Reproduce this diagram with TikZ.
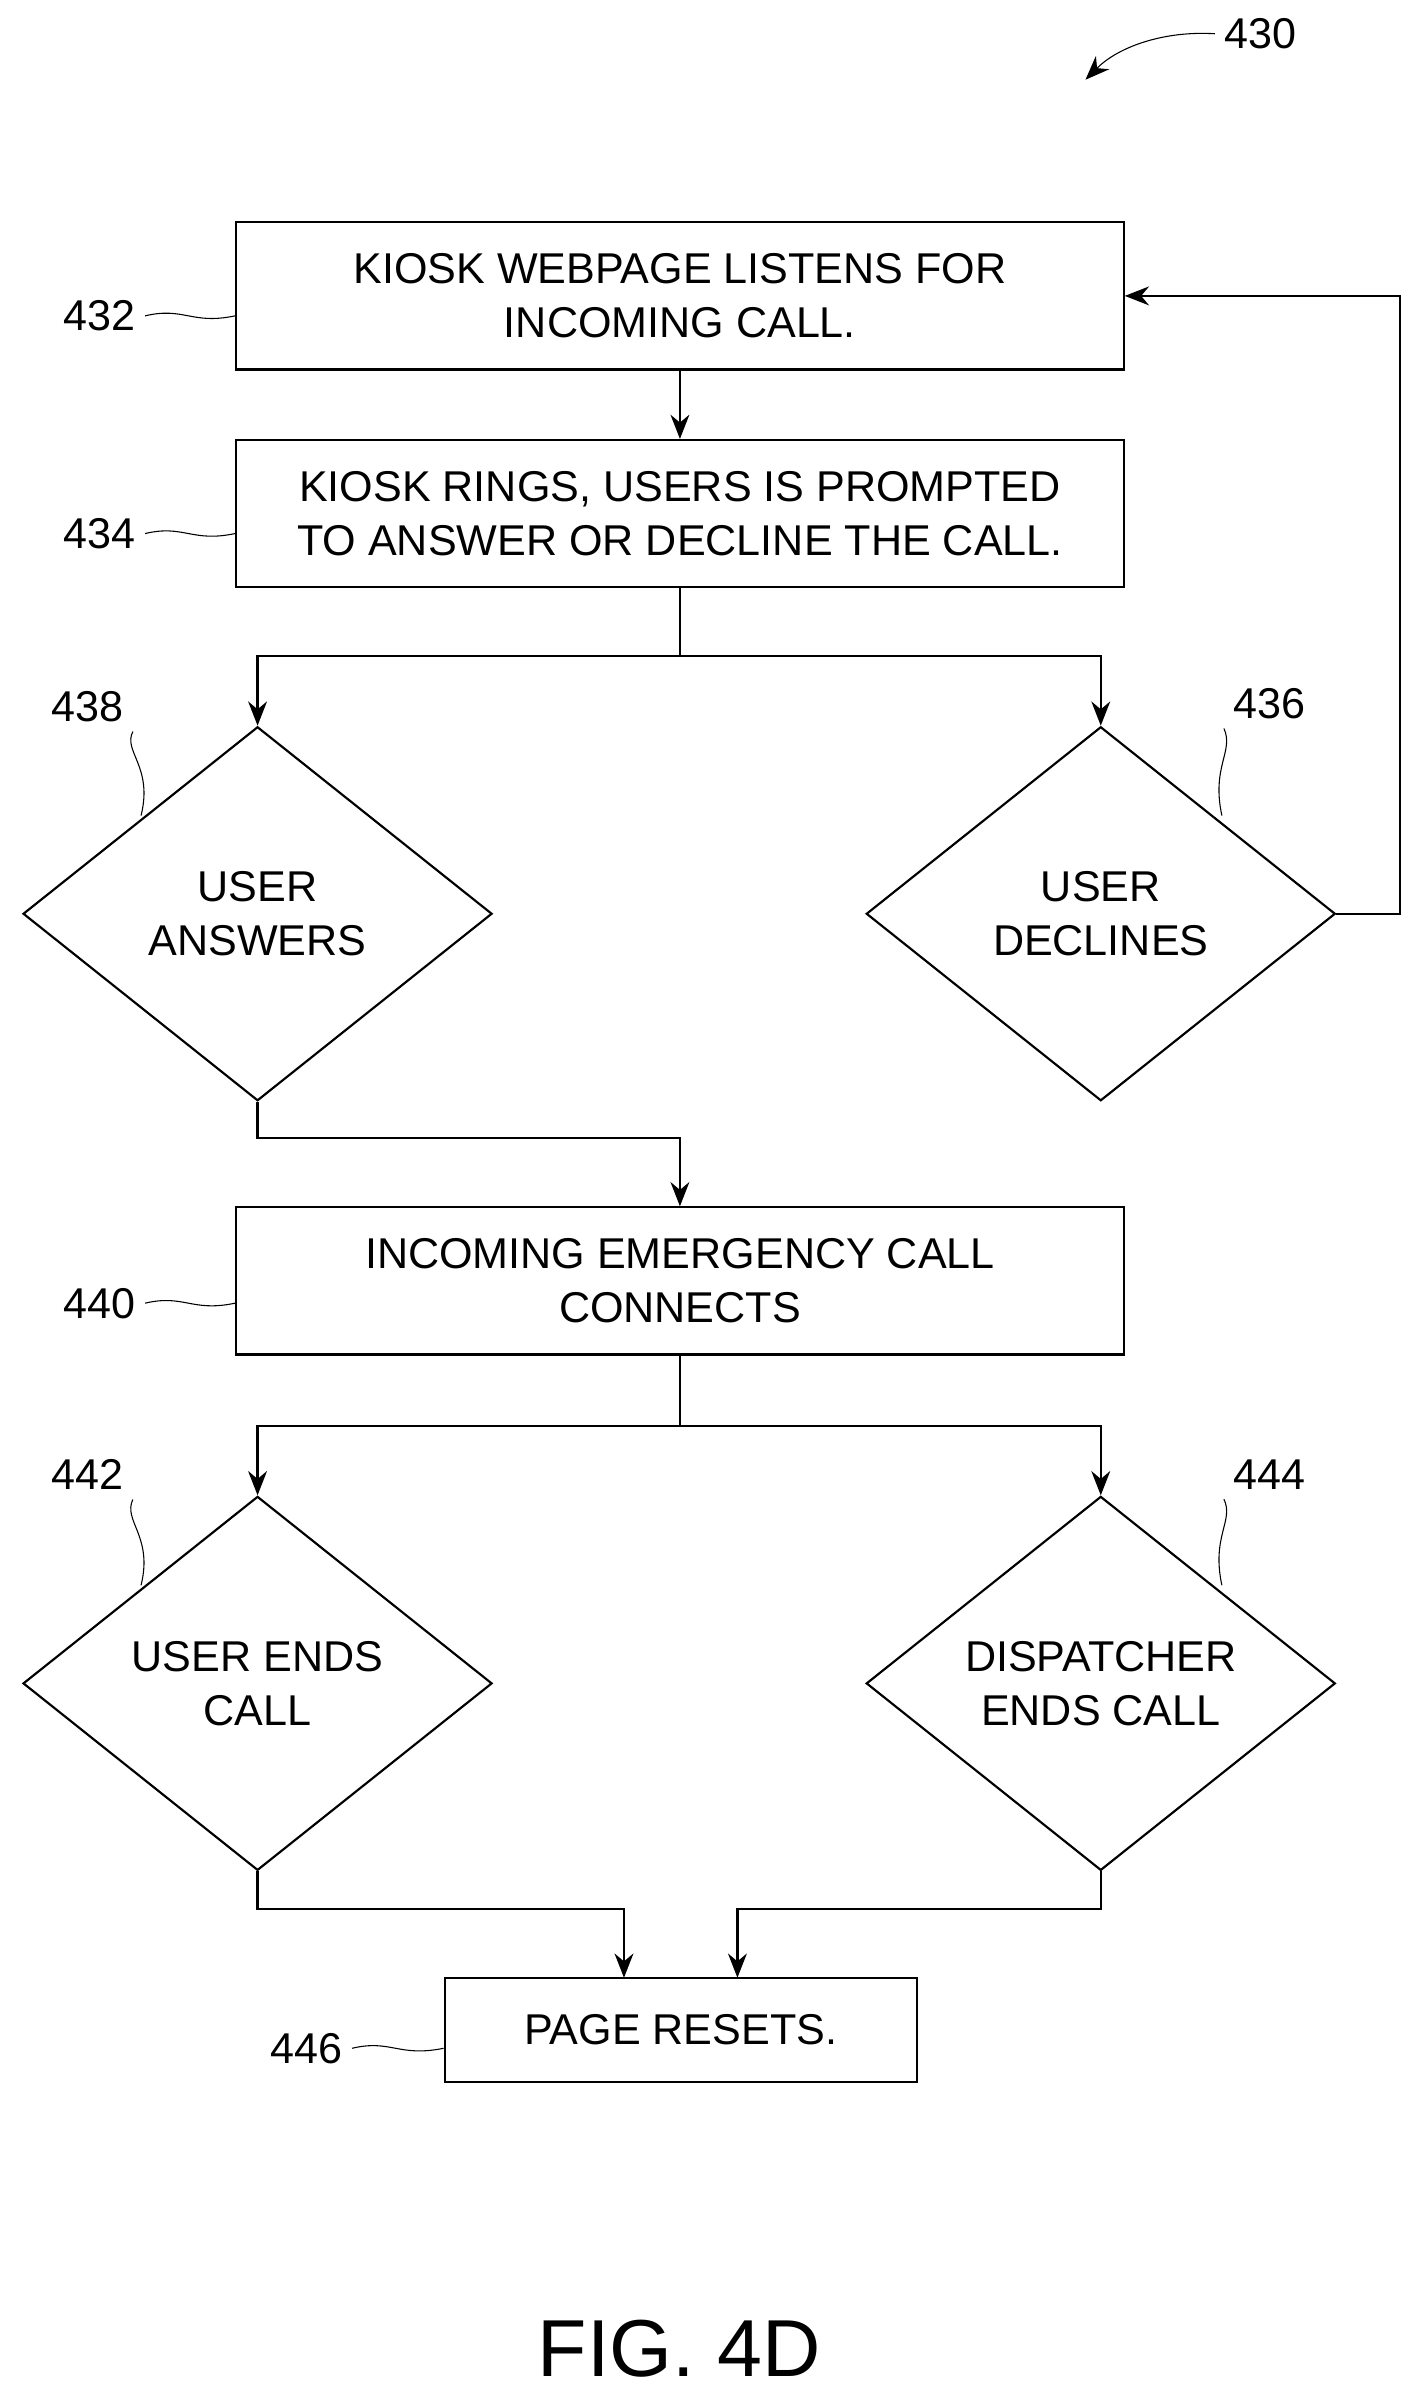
\documentclass[tikz,border=0pt]{standalone}
\usepackage{fontspec}
\setmainfont{Liberation Sans}
\usetikzlibrary{shapes.geometric,arrows.meta}
\tikzset{
    procbox/.style={draw, thick, minimum width=11.58cm, minimum height=1.92cm, align=center, inner sep=0pt},
    test/.style={draw, thick, diamond, aspect=1.254, minimum width=6.12cm, minimum height=4.88cm, align=center, inner sep=0pt},
    flow/.style={thick, -{Stealth[length=9pt,width=7pt]}},
    lead/.style={thin},
    ref/.style={font=\fontsize{16}{19}\selectfont}
}
\begin{document}
\begin{tikzpicture}[x=0.02cm, y=-0.02cm, font=\fontsize{16}{20}\selectfont]
    \useasboundingbox (0,0) rectangle (930,1570);

    \node[procbox] (s432) at (443.5,193) {KIOSK WEBPAGE LISTENS FOR\\INCOMING CALL.};
    \node[procbox] (s434) at (443.5,335) {KIOSK RINGS, USERS IS PROMPTED\\TO ANSWER OR DECLINE THE CALL.};
    \node[test] (d438) at (168,596) {USER\\ANSWERS};
    \node[test] (d436) at (718,596) {USER\\DECLINES};
    \node[procbox] (s440) at (443.5,835.5) {INCOMING EMERGENCY CALL\\CONNECTS};
    \node[test] (d442) at (168,1098) {USER ENDS\\CALL};
    \node[test] (d444) at (718,1098) {DISPATCHER\\ENDS CALL};
    \node[procbox, minimum width=6.16cm, minimum height=1.36cm] (s446) at (444,1324) {PAGE RESETS.};

    % connectors
    \draw[flow] (s432) -- (s434);
    \draw[thick] (s434.south) -- (443.5,428) coordinate (j1);
    \draw[flow] (j1) -| (d438.north);
    \draw[flow] (j1) -| (d436.north);
    \draw[flow] (d436.east) -- (913,596) |- (s432.east);
    \draw[flow] (d438.south) -- (168,742) -| (s440.north);
    \draw[thick] (s440.south) -- (443.5,930) coordinate (j2);
    \draw[flow] (j2) -| (d442.north);
    \draw[flow] (j2) -| (d444.north);
    \draw[flow] (d442.south) -- (168,1245) -| (407,1290);
    \draw[flow] (d444.south) -- (718,1245) -| (481,1290);

    % reference numerals
    \node[ref] (n430) at (822,22) {430};
    \draw[lead, -{Stealth[length=9pt,width=7pt]}] (n430.west) .. controls (760,20) and (730,30) .. (708,52);
    \node[ref] (n432) at (65,206) {432};
    \draw[lead] (n432.east) .. controls (120,200) and (125,212) .. (s432.west |- 0,206);
    \node[ref] (n434) at (65,348) {434};
    \draw[lead] (n434.east) .. controls (120,342) and (125,354) .. (s434.west |- 0,348);
    \node[ref] (n440) at (65,850) {440};
    \draw[lead] (n440.east) .. controls (120,844) and (125,856) .. (s440.west |- 0,850);
    \node[ref] (n446) at (200,1336) {446};
    \draw[lead] (n446.east) .. controls (255,1330) and (260,1342) .. (s446.west |- 0,1336);
    \node[ref] (n438) at (57,461) {438};
    \draw[lead] (n438.south east) .. controls (80,490) and (100,500) .. (92,532);
    \node[ref] (n436) at (828,459) {436};
    \draw[lead] (n436.south west) .. controls (805,490) and (790,500) .. (797,532);
    \node[ref] (n442) at (57,962) {442};
    \draw[lead] (n442.south east) .. controls (80,992) and (100,1002) .. (92,1034);
    \node[ref] (n444) at (828,962) {444};
    \draw[lead] (n444.south west) .. controls (805,992) and (790,1002) .. (797,1034);

    \node[font=\fontsize{30}{36}\selectfont] (fig) at (443,1532) {FIG. 4D};
\end{tikzpicture}
\end{document}
